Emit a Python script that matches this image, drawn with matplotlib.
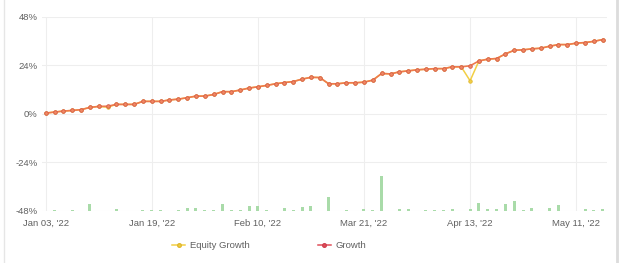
import matplotlib
matplotlib.use("Agg")
import matplotlib.pyplot as plt
from matplotlib.lines import Line2D
import numpy as np

# ---- data ----
growth = [0.3, 0.8, 1.3, 1.6, 2.0, 3.1, 3.6, 3.7, 4.6, 4.6, 4.6, 6.1, 6.1, 6.1, 6.8, 7.2,
          7.9, 8.7, 8.7, 9.5, 10.9, 10.9, 11.7, 12.7, 13.3, 14.0, 14.8, 15.4, 15.9, 17.1, 18.0, 17.9,
          14.8, 14.8, 15.3, 15.3, 15.6, 16.6, 19.9, 19.7, 20.7, 21.2, 21.7, 22.0, 22.3, 22.3,
          23.2, 23.2, 23.7, 26.1, 27.0, 27.3, 29.6, 31.4, 31.6, 32.1, 32.4, 33.4, 34.2, 34.2,
          34.9, 35.2, 35.8, 36.7]
equity = list(growth)
equity[7] = 3.2
equity[48] = 16.3

bar_idx = [1, 3, 5, 8, 11, 12, 13, 15, 16, 17, 18, 19, 20, 21, 22, 23, 24, 25, 27, 28, 29, 30,
           32, 34, 36, 37, 38, 40, 41, 43, 44, 45, 46, 48, 49, 50, 51, 52, 53, 54, 55, 57, 58,
           61, 62, 63]
bar_val = [0.5, 0.5, 3.3, 0.6, 0.5, 0.5, 0.5, 0.5, 1.4, 1.3, 0.5, 0.5, 3.3, 0.5, 0.5, 2.1, 2.1, 0.5, 1.2, 0.5, 1.8, 2.1,
           6.9, 0.3, 0.6, 0.4, 17.4, 0.6, 0.6, 0.4, 0.4, 0.4, 0.6, 0.6, 3.9, 0.6, 0.8, 3.5, 4.8, 0.3, 1.1, 1.1, 3.0,
           0.6, 0.3, 0.8]

tick_pos = [0, 12, 24, 36, 48, 60]
tick_labels = ["Jan 03, '22", "Jan 19, '22", "Feb 10, '22", "Mar 21, '22", "Apr 13, '22", "May 11, '22"]
y_ticks = [-48, -24, 0, 24, 48]
y_labels = ["-48%", "-24%", "0%", "24%", "48%"]

plt.rcParams['font.family'] = ['Liberation Sans', 'DejaVu Sans']

fig = plt.figure(figsize=(6.25, 2.63), dpi=100)
ax = fig.add_axes([0.0667, 0.1989, 0.904, 0.7376])

x = np.arange(len(growth))
base = -48
ax.bar(bar_idx, bar_val, bottom=base, width=0.34, color='#a9dba9', zorder=2)

line_col = '#ee7a4c'
eq_col = '#f2cf45'
ax.plot(x, equity, color=eq_col, lw=1.1, marker='o', ms=2.5, mfc=eq_col, mec='#e0b830', mew=0.6, zorder=3)
ax.plot(x, growth, color=line_col, lw=1.2, marker='o', ms=2.6, mfc='#f08a62', mec='#d6584a', mew=0.6, zorder=4)

ax.set_xlim(-0.45, 63.45)
ax.set_ylim(-48, 48)
ax.set_xticks(tick_pos)
ax.set_xticklabels(tick_labels)
ax.set_yticks(y_ticks)
ax.set_yticklabels(y_labels)
ax.tick_params(axis='both', length=0, labelsize=6.8, colors='#606060')
ax.tick_params(axis='x', pad=6)
ax.tick_params(axis='y', pad=3)
ax.grid(True, color='#eeeeee', lw=0.8, zorder=0)
for s in ax.spines.values():
    s.set_visible(False)

handles = [Line2D([0], [0], color=eq_col, lw=1.1, marker='o', ms=2.6, mfc=eq_col, mec='#e0b830'),
           Line2D([0], [0], color='#e0505a', lw=1.1, marker='o', ms=2.6, mfc='#e0505a', mec='#d04050')]
fig.legend(handles, ['Equity Growth', 'Growth'], loc='center', bbox_to_anchor=(0.431, 1 - 245.7 / 263),
           ncol=2, frameon=False, fontsize=6.8, handlelength=1.4, handletextpad=0.5, columnspacing=7.2,
           labelcolor='#606060')

# container borders
fig.add_artist(Line2D([0.006, 0.006], [0, 1], color='#e6e6e6', lw=1.0, transform=fig.transFigure))
fig.add_artist(Line2D([0.987, 0.987], [0, 1], color='#dcdcdc', lw=2.0, transform=fig.transFigure))

fig.savefig('out.png', dpi=100)
